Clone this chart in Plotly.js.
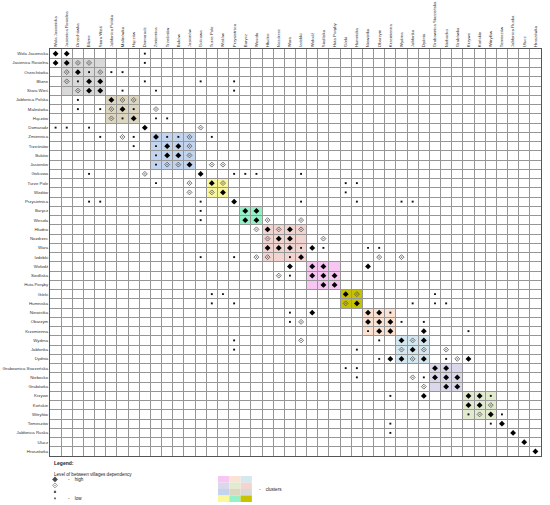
<!DOCTYPE html>
<html><head><meta charset="utf-8">
<script src="https://cdn.plot.ly/plotly-3.0.1.min.js"></script>
<style>html,body{margin:0;padding:0;background:#fff}</style>
</head><body><div id="chart" style="width:550px;height:505px"></div>
<script>
const villages = ["Wola Jasienicka","Jasienica Rosielna","Orzechówka","Blizne","Stara Wieś","Jabłonica Polska","Malinówka","Hączów","Domaradz","Zmiennica","Trześniów","Buków","Jasionów","Golcowa","Turze Pole","Wzdów","Przysietnica","Barycz","Wesoła","Hłudno","Nozdrzec","Wara","Izdebki","Wołodź","Siedliska","Huta Poręby","Górki","Humniska","Niewistka","Obarzym","Krzemienna","Wydrna","Jabłonka","Dydnia","Grabownica Starzeńska","Niebocko","Grabówka","Krzywe","Końskie","Witryłów","Temeszów","Jabłonica Ruska","Ulucz","Hroszówka"];

// [row, column] index pairs by dependency level
const highPairs = [[0,0],[0,1],[1,0],[1,1],[2,2],[3,3],[3,4],[4,3],[4,4],[5,5],[6,6],[7,7],[8,8],[9,9],[10,10],[10,11],[11,10],[11,11],[12,12],[13,13],[14,14],[15,15],[16,16],[17,17],[17,18],[18,17],[18,18],[19,19],[19,21],[20,20],[20,21],[21,19],[21,20],[21,21],[21,23],[22,22],[23,21],[23,23],[23,24],[23,28],[24,23],[24,24],[24,25],[25,24],[25,25],[26,26],[27,27],[28,23],[28,28],[28,29],[29,28],[29,29],[29,30],[30,29],[30,30],[30,33],[31,31],[31,33],[32,32],[33,30],[33,31],[33,33],[33,37],[34,34],[34,35],[35,34],[35,35],[35,36],[36,35],[36,36],[37,33],[37,37],[37,38],[38,37],[38,38],[39,39],[40,40],[41,41],[42,42],[43,43]];
const midPairs = [[1,2],[1,3],[2,1],[2,4],[3,1],[4,2],[5,6],[5,7],[6,5],[6,9],[7,5],[8,13],[9,6],[9,12],[10,12],[11,12],[12,10],[12,11],[12,14],[12,15],[13,8],[14,12],[14,15],[15,12],[15,14],[18,19],[18,22],[19,18],[19,20],[19,22],[20,19],[20,24],[22,18],[22,19],[22,29],[22,31],[24,20],[26,27],[27,26],[29,22],[31,22],[31,32],[32,31],[32,33],[32,35],[33,32],[33,36],[35,32],[36,33],[38,39],[39,38]];
const lowPairs = [[0,8],[1,8],[2,3],[2,5],[2,6],[3,2],[3,8],[3,13],[3,16],[4,6],[4,9],[4,16],[5,2],[6,2],[6,4],[6,7],[7,6],[7,9],[7,10],[8,0],[8,1],[8,3],[9,4],[9,7],[9,10],[9,11],[9,14],[10,7],[10,9],[11,9],[12,9],[13,3],[13,16],[13,17],[13,18],[13,22],[14,9],[14,26],[14,27],[15,26],[16,3],[16,4],[16,13],[16,22],[16,27],[16,31],[16,32],[17,13],[18,13],[21,22],[21,24],[21,28],[21,29],[22,13],[22,16],[22,21],[24,21],[26,14],[26,15],[26,34],[27,14],[27,16],[27,32],[27,34],[27,35],[28,21],[28,30],[29,21],[29,31],[29,33],[30,28],[30,37],[31,16],[31,29],[32,16],[32,27],[33,29],[33,35],[34,26],[34,27],[35,27],[35,33],[37,30],[37,39],[39,37],[39,40],[40,30],[40,39],[41,30]];

// clusters along the diagonal (first and last village index)
const clusterStart = [1,5,9,14,17,19,23,26,28,31,34,37];
const clusterEnd   = [4,7,12,15,18,22,25,27,30,33,36,39];
const clusterColors = ["#d9d9d9","#ddd6c0","#c3d5ee","#fbf79b","#96f1c8","#f2d4d1","#f7c6f3","#c8c300","#fbe2d2","#d4e8f1","#dcd8eb","#e2ebd0"];
// legend swatch order (3 x 4 grid)
const swatchOrder = [6,8,9, 10,11,5, 2,1,0, 3,4,7];

const idx = villages.map((_, i) => i);
const edges = villages.map((_, i) => i - 0.5).concat([villages.length - 0.5]);

function pairTrace(pairs, marker) {
  return {type:'scatter', mode:'markers', xaxis:'x', yaxis:'y',
    x: pairs.map(p => p[1]), y: pairs.map(p => p[0]),
    marker: marker, hoverinfo:'skip', showlegend:false};
}
const mHigh = {symbol:'diamond', size:4.5, color:'#000'};
const mMid = {symbol:'diamond-open-dot', size:3.8, color:'#555', line:{color:'#555', width:0.8}};
const mLow = {symbol:'square', size:1.9, color:'#111'};

const traces = [pairTrace(lowPairs, mLow), pairTrace(midPairs, mMid), pairTrace(highPairs, mHigh)];

// legend symbols (legend subplot, units = px)
traces.push({type:'scatter', mode:'markers', xaxis:'x2', yaxis:'y2',
  x:[5,5,5,5], y:[20,26,32.5,39],
  marker:{symbol:[mHigh.symbol,mMid.symbol,'square','square'], size:[4.5,3.8,2.2,1.7],
    color:['#000','#555','#111','#111'], line:{color:'#555', width:[0,0.8,0,0]}},
  hoverinfo:'skip', showlegend:false});

const shapes = clusterStart.map((s, i) => ({type:'rect', xref:'x', yref:'y', layer:'below',
  x0:s-0.5, x1:clusterEnd[i]+0.5, y0:s-0.5, y1:clusterEnd[i]+0.5,
  fillcolor:clusterColors[i], line:{width:0}}));
swatchOrder.forEach((ci, k) => {
  const col = k % 3, row = Math.floor(k / 3);
  shapes.push({type:'rect', xref:'x2', yref:'y2', x0:168 + col*11.3, x1:168 + (col+1)*11.3,
    y0:16.6 + row*6.5, y1:16.6 + (row+1)*6.5, fillcolor:clusterColors[ci], line:{width:0}});
});

const tf = {family:'Liberation Sans, Arial, sans-serif', size:4.3, color:'#333'};
const gridSpec = {tickvals:edges, showgrid:true, gridcolor:'#969696', gridwidth:1, ticks:''};

const annFont = {family:'Liberation Sans, Arial, sans-serif', size:4.6, color:'#222'};
const annotations = [
  {xref:'x2', yref:'y2', x:2, y:3.6, text:'<b>Legend:</b>', showarrow:false, xanchor:'left', yanchor:'middle', font:{...annFont, size:5}},
  {xref:'x2', yref:'y2', x:2, y:14.6, text:'Level of between villages dependency', showarrow:false, xanchor:'left', yanchor:'middle', font:annFont},
  {xref:'x2', yref:'y2', x:16, y:20, text:'-    high', showarrow:false, xanchor:'left', yanchor:'middle', font:annFont},
  {xref:'x2', yref:'y2', x:16, y:39, text:'-    low', showarrow:false, xanchor:'left', yanchor:'middle', font:annFont},
  {xref:'x2', yref:'y2', x:207, y:29.6, text:'-    clusters', showarrow:false, xanchor:'left', yanchor:'middle', font:annFont}
];

const layout = {
  width:550, height:505,
  margin:{l:50, r:9, t:49, b:0, pad:0},
  paper_bgcolor:'#fff', plot_bgcolor:'#fff',
  showlegend:false,
  xaxis:{domain:[0,1], anchor:'y', range:[-0.5, villages.length-0.5], side:'top',
    tickmode:'array', tickvals:idx, ticktext:villages, tickangle:-90, tickfont:tf,
    showgrid:false, zeroline:false, ticks:'', automargin:false, fixedrange:true,
    showline:true, mirror:true, linecolor:'#555', linewidth:1, minor:gridSpec},
  yaxis:{domain:[49/456, 1], anchor:'x', range:[villages.length-0.5, -0.5],
    tickmode:'array', tickvals:idx, ticktext:villages, tickfont:tf,
    showgrid:false, zeroline:false, ticks:'', automargin:false, fixedrange:true,
    showline:true, mirror:true, linecolor:'#555', linewidth:1, minor:gridSpec},
  xaxis2:{domain:[0,1], anchor:'y2', range:[0,491], visible:false, fixedrange:true},
  yaxis2:{domain:[0,0.1], anchor:'x2', range:[45.6,0], visible:false, fixedrange:true},
  shapes:shapes,
  annotations:annotations
};

Plotly.newPlot('chart', traces, layout, {staticPlot:true, displayModeBar:false});
</script></body></html>
